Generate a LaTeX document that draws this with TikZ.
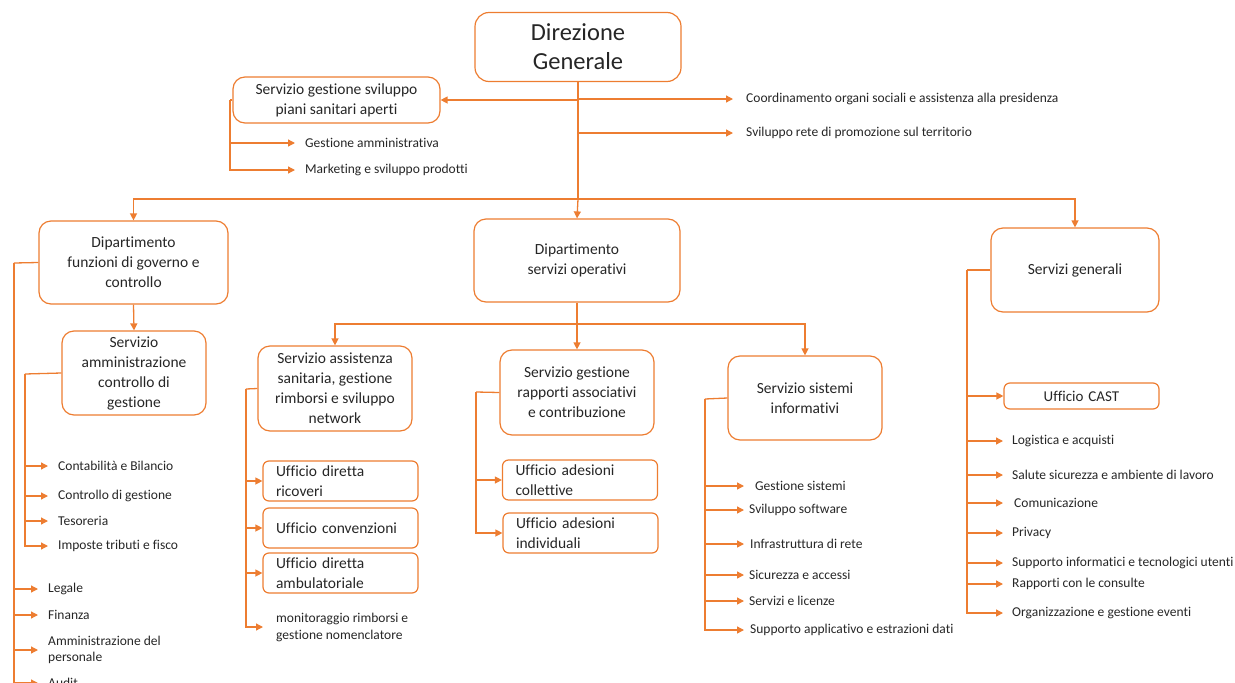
\documentclass[tikz,border=0pt]{standalone}
\usepackage{fontspec}
\setmainfont{Carlito}[Ligatures=NoCommon]
\usetikzlibrary{arrows.meta}
\definecolor{orgline}{HTML}{ED7D31}
\definecolor{orgtext}{HTML}{262626}
\tikzset{
  unitbox/.style={draw=orgline, line width=1.2pt, rounded corners=12pt, align=center, inner sep=0pt,
    text=orgtext, font=\fontsize{15.5}{20}\selectfont},
  officebox/.style={draw=orgline, line width=1.2pt, rounded corners=6pt, align=left, inner xsep=13pt,
    text=orgtext, font=\fontsize{15.5}{20}\selectfont, minimum width=155pt, minimum height=40pt,
    text width=129pt},
  leaf/.style={anchor=west, inner xsep=10pt, inner ysep=1pt, align=left, text=orgtext,
    font=\fontsize{13.5}{16.5}\selectfont},
  feed/.style={draw=orgline, line width=1.3pt, -{Triangle[length=7pt,width=7pt]}},
  link/.style={draw=orgline, line width=1.3pt}
}
\begin{document}
\begin{tikzpicture}[x=1pt,y=-1pt]
\useasboundingbox (0,0) rectangle (1235,683);
\clip (0,0) rectangle (1235,683);
%% vertice
\node[unitbox, minimum width=206pt, minimum height=69pt, rounded corners=14pt,
  font=\fontsize{24.5}{29}\selectfont] at (578,47) (dg) {Direzione\\Generale};
\node[unitbox, minimum width=207pt, minimum height=46pt] at (336.5,100) (sgs) {Servizio gestione sviluppo\\piani sanitari aperti};
\node[leaf] at (295,143) (gam) {Gestione amministrativa};
\node[leaf] at (295,170) (mkt) {Marketing e sviluppo prodotti};
\node[leaf, inner xsep=13pt] at (733,99) (coord) {Coordinamento organi sociali e assistenza alla presidenza};
\node[leaf, inner xsep=13pt] at (733,133) (svr) {Sviluppo rete di promozione sul territorio};
\coordinate (sgsspine) at (230,100);
\coordinate (hub) at (578,199);
\draw[feed] (dg.south) |- (sgs.east);
\draw[feed] (dg.south) |- (coord.west);
\draw[feed] (dg.south) |- (svr.west);
\draw[link] (sgs.west) -- (sgsspine);
\draw[feed] (sgsspine) |- (gam.west);
\draw[feed] (sgsspine) |- (mkt.west);
%% dipartimenti
\node[unitbox, minimum width=189pt, minimum height=83pt] at (133.5,262.5) (dfg) {Dipartimento\\funzioni di governo e\\controllo};
\node[unitbox, minimum width=206pt, minimum height=83pt] at (577,260.5) (dso) {Dipartimento\\servizi operativi};
\node[unitbox, minimum width=168pt, minimum height=84pt] at (1075,270) (sg) {Servizi generali};
\draw[link] (dg.south) -- (hub);
\draw[feed] (hub) -| (dfg.north);
\draw[feed] (hub) -- (dso.north);
\draw[feed] (hub) -| (sg.north);
%% branch 1: governo e controllo
\node[unitbox, minimum width=144pt, minimum height=84pt] at (134,373) (sam) {Servizio\\amministrazione\\controllo di\\gestione};
\draw[feed] (dfg.south) -- (sam.north);
\coordinate (dfgspine) at (14,263); \coordinate (samspine) at (25,374);
\node[leaf] at (48,466) (cbl) {Contabilità e Bilancio};
\node[leaf] at (48,496) (cdg) {Controllo di gestione};
\node[leaf] at (48,521) (tes) {Tesoreria};
\node[leaf] at (48,546) (imp) {Imposte tributi e fisco};
\node[leaf] at (38,589) (leg) {Legale};
\node[leaf] at (38,615) (fin) {Finanza};
\node[leaf] at (38,650) (amp) {Amministrazione del\\personale};
\node[leaf] at (38,683) (aud) {Audit};
\draw[link] (sam.west) -- (samspine);
\foreach \n in {cbl,cdg,tes,imp} \draw[feed] (samspine) |- (\n.west);
\draw[link] (dfg.west) -- (dfgspine);
\foreach \n in {leg,fin,amp,aud} \draw[feed] (dfgspine) |- (\n.west);
%% branch 2: servizi operativi
\coordinate (opsbus) at (577,324);
\node[unitbox, minimum width=154pt, minimum height=85pt] at (335,388.5) (ssa) {Servizio assistenza\\sanitaria, gestione\\rimborsi e sviluppo\\network};
\node[unitbox, minimum width=154pt, minimum height=85pt] at (577,392.5) (sgr) {Servizio gestione\\rapporti associativi\\e contribuzione};
\node[unitbox, minimum width=154pt, minimum height=84pt] at (805,398) (ssi) {Servizio sistemi\\informativi};
\draw[link] (dso.south) -- (opsbus);
\draw[feed] (opsbus) -| (ssa.north);
\draw[feed] (opsbus) -- (sgr.north);
\draw[feed] (opsbus) -| (ssi.north);
\coordinate (ssaspine) at (246,389);
\node[officebox] at (340.5,481) (udr) {Ufficio diretta\\ricoveri};
\node[officebox] at (340.5,528) (uco) {Ufficio convenzioni};
\node[officebox] at (340.5,573) (uda) {Ufficio diretta\\ambulatoriale};
\node[leaf, inner xsep=13pt, font=\fontsize{13.5}{17}\selectfont] at (263,627) (mon) {monitoraggio rimborsi e\\gestione nomenclatore};
\draw[link] (ssa.west) -- (ssaspine);
\foreach \n in {udr,uco,uda,mon} \draw[feed] (ssaspine) |- (\n.west);
\coordinate (sgrspine) at (476,392);
\node[officebox] at (580,480) (uac) {Ufficio adesioni\\collettive};
\node[officebox] at (580.5,533) (uai) {Ufficio adesioni\\individuali};
\draw[link] (sgr.west) -- (sgrspine);
\foreach \n in {uac,uai} \draw[feed] (sgrspine) |- (\n.west);
\coordinate (ssispine) at (705,399);
\node[leaf, inner xsep=11pt] at (744,486) (gsi) {Gestione sistemi};
\node[leaf, inner xsep=5pt] at (744,510) (svs) {Sviluppo software};
\node[leaf, inner xsep=6pt] at (744,544) (inf) {Infrastruttura di rete};
\node[leaf, inner xsep=5pt] at (744,575) (sic) {Sicurezza e accessi};
\node[leaf, inner xsep=5pt] at (744,601) (slc) {Servizi e licenze};
\node[leaf, inner xsep=6pt] at (744,630) (sap) {Supporto applicativo e estrazioni dati};
\draw[link] (ssi.west) -- (ssispine);
\foreach \n in {gsi,svs,inf,sic,slc,sap} \draw[feed] (ssispine) |- (\n.west);
%% branch 3: servizi generali
\coordinate (sgspine) at (967,270);
\node[officebox, align=center, minimum height=26pt, font=\fontsize{15}{18}\selectfont] at (1081.5,396) (ucast) {Ufficio CAST};
\node[leaf, inner xsep=9pt] at (1003,441) (log) {Logistica e acquisti};
\node[leaf, inner xsep=9pt] at (1003,475) (sal) {Salute sicurezza e ambiente di lavoro};
\node[leaf, inner xsep=11pt] at (1003,503) (com) {Comunicazione};
\node[leaf, inner xsep=9pt] at (1003,533) (prv) {Privacy};
\node[leaf, inner xsep=9pt] at (1003,563) (sit) {Supporto informatici e tecnologici utenti};
\node[leaf, inner xsep=9pt] at (1003,584) (rcc) {Rapporti con le consulte};
\node[leaf, inner xsep=9pt] at (1003,613) (oge) {Organizzazione e gestione eventi};
\draw[link] (sg.west) -- (sgspine);
\foreach \n in {ucast,log,sal,com,prv,sit,rcc,oge} \draw[feed] (sgspine) |- (\n.west);
\end{tikzpicture}
\end{document}
